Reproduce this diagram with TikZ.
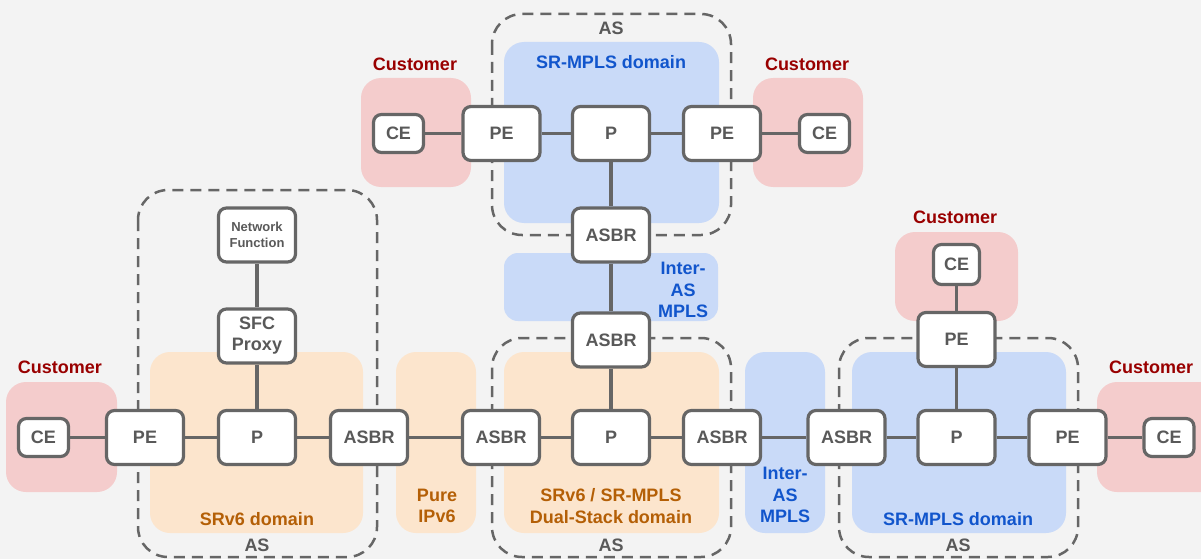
\documentclass[tikz,border=0pt]{standalone}
\usepackage{fontspec}
\setmainfont{Liberation Sans}
\definecolor{bg}{HTML}{F3F3F3}
\definecolor{edge}{HTML}{666666}
\definecolor{ink}{HTML}{595959}
\definecolor{custfill}{HTML}{F4CCCC}
\definecolor{custtext}{HTML}{990000}
\definecolor{vsixfill}{HTML}{FCE5CD}
\definecolor{vsixtext}{HTML}{B45F06}
\definecolor{mplsfill}{HTML}{C9DAF8}
\definecolor{mplstext}{HTML}{1155CC}

\tikzset{
  router/.style={draw=edge, line width=3.2pt, fill=white, rounded corners=8pt,
    minimum width=77pt, minimum height=54pt, inner sep=0pt,
    font=\fontsize{18}{21}\selectfont\bfseries, text=ink, align=center},
  cebox/.style={router, minimum width=50pt, minimum height=38pt},
  link/.style={draw=edge, line width=3.8pt},
  asbox/.style={draw=edge, line width=2.5pt, dash pattern=on 11pt off 7pt, rounded corners=30pt},
  region/.style={rounded corners=20pt},
  lbl/.style={font=\fontsize{18}{21.5}\selectfont\bfseries, align=center, inner sep=0pt},
}

\begin{document}
\begin{tikzpicture}[x=1pt,y=-1pt]
\useasboundingbox (0,0) rectangle (1201,559);
\fill[bg] (0,0) rectangle (1201,559);

% customer sites
\fill[custfill, region] (6,382) rectangle (117,492);
\fill[custfill, region] (361,78) rectangle (471,187);
\fill[custfill, region] (753,78) rectangle (863,187);
\fill[custfill, region] (895,232) rectangle (1018,321);
\fill[custfill, region] (1097,382) rectangle (1225,492);

% SRv6 / IPv6 domains
\fill[vsixfill, region] (150,352) rectangle (363,533);
\fill[vsixfill, region] (396,352) rectangle (476,533);
\fill[vsixfill, region] (504,352) rectangle (719,533);

% MPLS domains
\fill[mplsfill, region] (504,42) rectangle (719,223);
\fill[mplsfill, rounded corners=14pt] (504,253) rectangle (718,321);
\fill[mplsfill, region] (745,352) rectangle (825,533);
\fill[mplsfill, region] (852,352) rectangle (1066,533);

% autonomous systems
\draw[asbox] (138,190) rectangle (377,557);
\draw[asbox] (492,14) rectangle (731,235);
\draw[asbox] (492,338) rectangle (731,557);
\draw[asbox] (839,338) rectangle (1078,557);

% region labels
\node[lbl, text=custtext] (cust1) at (60,367) {Customer};
\node[lbl, text=custtext] (cust2) at (415,64) {Customer};
\node[lbl, text=custtext] (cust3) at (807,64) {Customer};
\node[lbl, text=custtext] (cust4) at (955,217) {Customer};
\node[lbl, text=custtext] (cust5) at (1151,367) {Customer};

\node[lbl, text=vsixtext] (srv6) at (257,519) {SRv6 domain};
\node[lbl, text=vsixtext] (pure) at (437,506) {Pure\\IPv6};
\node[lbl, text=vsixtext] (dual) at (611,506) {SRv6 / SR-MPLS\\Dual-Stack domain};

\node[lbl, text=mplstext] (srmplsA) at (611,62) {SR-MPLS domain};
\node[lbl, text=mplstext] (srmplsB) at (958,519) {SR-MPLS domain};
\node[lbl, text=mplstext] (interA) at (683,290) {Inter-\\AS\\MPLS};
\node[lbl, text=mplstext] (interB) at (785,495) {Inter-\\AS\\MPLS};

\node[lbl, text=ink] (asL) at (257,545) {AS};
\node[lbl, text=ink] (asT) at (611,28.5) {AS};
\node[lbl, text=ink] (asM) at (611,545) {AS};
\node[lbl, text=ink] (asR) at (958,545) {AS};

% main row
\node[cebox]  (ce1)   at (43.5,437.5) {CE};
\node[router] (pe1)   at (145,437.5) {PE};
\node[router] (p1)    at (257,437.5) {P};
\node[router] (asbr1) at (369,437.5) {ASBR};
\node[router] (asbr2) at (501,437.5) {ASBR};
\node[router] (p2)    at (611,437.5) {P};
\node[router] (asbr3) at (722,437.5) {ASBR};
\node[router] (asbr4) at (846.5,437.5) {ASBR};
\node[router] (p3)    at (956.5,437.5) {P};
\node[router] (pe3)   at (1067.5,437.5) {PE};
\node[cebox]  (ce4)   at (1169,437.5) {CE};

% service chain
\node[router] (sfc) at (257,336) {SFC\\Proxy};
\node[router, font=\fontsize{13}{15.5}\selectfont\bfseries] (nf) at (257,235) {Network\\Function};

% upper SR-MPLS domain
\node[cebox]  (ce2)   at (398.5,133.5) {CE};
\node[router] (pe2a)  at (501.5,133.5) {PE};
\node[router] (p4)    at (611,133.5) {P};
\node[router] (pe2b)  at (722,133.5) {PE};
\node[cebox]  (ce3)   at (824.5,133.5) {CE};
\node[router] (asbr5) at (611,235) {ASBR};
\node[router] (asbr6) at (611,340) {ASBR};

% branch of the right SR-MPLS domain
\node[router] (pe4) at (956.5,339.5) {PE};
\node[cebox, minimum width=46pt, minimum height=40pt] (ce5) at (956.5,264.5) {CE};

% links
\draw[link] (ce1) -- (pe1);
\draw[link] (pe1) -- (p1);
\draw[link] (p1) -- (asbr1);
\draw[link] (asbr1) -- (asbr2);
\draw[link] (asbr2) -- (p2);
\draw[link] (p2) -- (asbr3);
\draw[link] (asbr3) -- (asbr4);
\draw[link] (asbr4) -- (p3);
\draw[link] (p3) -- (pe3);
\draw[link] (pe3) -- (ce4);
\draw[link] (p1) -- (sfc);
\draw[link] (sfc) -- (nf);
\draw[link] (ce2) -- (pe2a);
\draw[link] (pe2a) -- (p4);
\draw[link] (p4) -- (pe2b);
\draw[link] (pe2b) -- (ce3);
\draw[link] (p4) -- (asbr5);
\draw[link] (asbr5) -- (asbr6);
\draw[link] (asbr6) -- (p2);
\draw[link] (p3) -- (pe4);
\draw[link] (pe4) -- (ce5);
\end{tikzpicture}
\end{document}
